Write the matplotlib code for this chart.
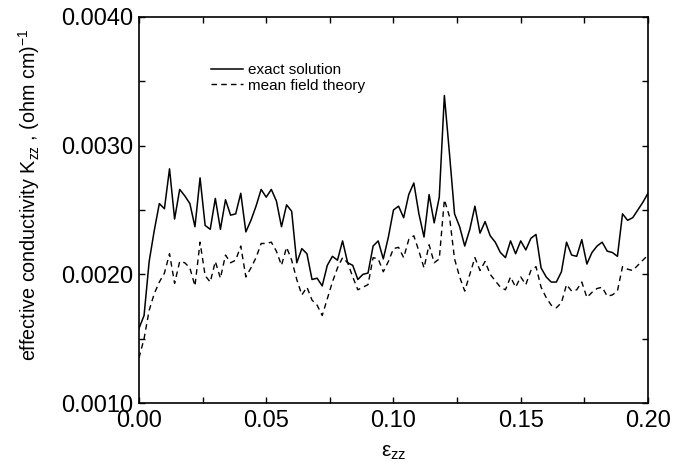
"""Effective conductivity K_zz vs strain: exact solution vs mean field theory."""

import numpy as np
import matplotlib
matplotlib.use('Agg')
import matplotlib.pyplot as plt
from matplotlib.ticker import MultipleLocator, FormatStrFormatter

# strain grid (step 0.002)
eps_zz = np.round(np.arange(0.0, 0.2001, 0.002), 3)

# exact solution, (ohm cm)^-1
k_exact = [
    0.00158, 0.00168, 0.00210, 0.00234, 0.00255, 0.00251, 0.00282, 0.00243,
    0.00266, 0.00261, 0.00255, 0.00237, 0.00275, 0.00238, 0.00235, 0.00259,
    0.00235, 0.00258, 0.00246, 0.00247, 0.00263, 0.00233, 0.00242, 0.00253,
    0.00266, 0.00260, 0.00266, 0.00257, 0.00237, 0.00254, 0.00249, 0.00209,
    0.00220, 0.00216, 0.00196, 0.00197, 0.00191, 0.00207, 0.00214, 0.00211,
    0.00226, 0.00209, 0.00207, 0.00196, 0.00200, 0.00201, 0.00222, 0.00226,
    0.00212, 0.00229, 0.00250, 0.00253, 0.00244, 0.00262, 0.00271, 0.00247,
    0.00229, 0.00262, 0.00240, 0.00260, 0.00339, 0.00294, 0.00247, 0.00237,
    0.00222, 0.00235, 0.00253, 0.00232, 0.00241, 0.00230, 0.00225, 0.00217,
    0.00213, 0.00226, 0.00216, 0.00226, 0.00219, 0.00228, 0.00231, 0.00205,
    0.00198, 0.00194, 0.00194, 0.00202, 0.00225, 0.00215, 0.00214, 0.00227,
    0.00208, 0.00217, 0.00222, 0.00225, 0.00218, 0.00217, 0.00214, 0.00247,
    0.00242, 0.00244, 0.00250, 0.00256, 0.00263,
]

# mean field theory
k_mft = [
    0.00135, 0.00150, 0.00172, 0.00185, 0.00194, 0.00201, 0.00216, 0.00193,
    0.00210, 0.00209, 0.00205, 0.00191, 0.00225, 0.00199, 0.00194, 0.00210,
    0.00197, 0.00215, 0.00209, 0.00211, 0.00222, 0.00198, 0.00205, 0.00213,
    0.00224, 0.00224, 0.00225, 0.00218, 0.00207, 0.00221, 0.00211, 0.00196,
    0.00184, 0.00190, 0.00180, 0.00176, 0.00168, 0.00181, 0.00194, 0.00205,
    0.00213, 0.00209, 0.00198, 0.00188, 0.00190, 0.00192, 0.00213, 0.00212,
    0.00202, 0.00210, 0.00220, 0.00221, 0.00213, 0.00227, 0.00230, 0.00218,
    0.00205, 0.00223, 0.00209, 0.00212, 0.00258, 0.00245, 0.00212, 0.00198,
    0.00187, 0.00200, 0.00213, 0.00203, 0.00210, 0.00200, 0.00195, 0.00190,
    0.00188, 0.00198, 0.00190, 0.00198, 0.00192, 0.00203, 0.00206, 0.00190,
    0.00182, 0.00176, 0.00174, 0.00178, 0.00192, 0.00187, 0.00188, 0.00194,
    0.00182, 0.00186, 0.00189, 0.00190, 0.00183, 0.00184, 0.00187, 0.00206,
    0.00204, 0.00203, 0.00207, 0.00211, 0.00215,
]

plt.rcParams['font.family'] = ['Liberation Sans', 'DejaVu Sans']
plt.rcParams['mathtext.fontset'] = 'custom'
plt.rcParams['mathtext.rm'] = 'Liberation Sans'
plt.rcParams['mathtext.it'] = 'Liberation Sans'

fig = plt.figure(figsize=(6.73, 4.67), dpi=100)
ax = fig.add_axes([0.2065, 0.137, 0.7563, 0.8266])

ax.plot(eps_zz, k_exact, '-', color='black', linewidth=1.1, label='exact solution')
ax.plot(eps_zz, k_mft, '--', color='black', linewidth=1.0, dashes=(4, 3),
        label='mean field theory')

ax.set_xlim(0.0, 0.2)
ax.set_ylim(0.001, 0.004)
ax.xaxis.set_major_locator(MultipleLocator(0.05))
ax.xaxis.set_minor_locator(MultipleLocator(0.025))
ax.yaxis.set_major_locator(MultipleLocator(0.001))
ax.yaxis.set_minor_locator(MultipleLocator(0.0005))
ax.xaxis.set_major_formatter(FormatStrFormatter('%.2f'))
ax.yaxis.set_major_formatter(FormatStrFormatter('%.4f'))
ax.tick_params(which='both', direction='in', top=True, right=True,
               length=4, width=1.0, labelsize=17, pad=4)
ax.tick_params(axis='x', pad=5)
for sp in ax.spines.values():
    sp.set_linewidth(1.2)

ax.set_xlabel('ε$_{zz}$', fontsize=15, labelpad=8)
ax.set_ylabel('effective conductivity K$_{zz}$ , (ohm cm)$^{-1}$', fontsize=14.2)
ax.yaxis.set_label_coords(-0.19, 0.54)

ax.legend(loc='upper left', bbox_to_anchor=(0.126, 0.90), frameon=False,
          fontsize=11, borderpad=0, handlelength=2.1, handletextpad=0.35,
          labelspacing=0.1)

fig.savefig('out.png', dpi=100)
